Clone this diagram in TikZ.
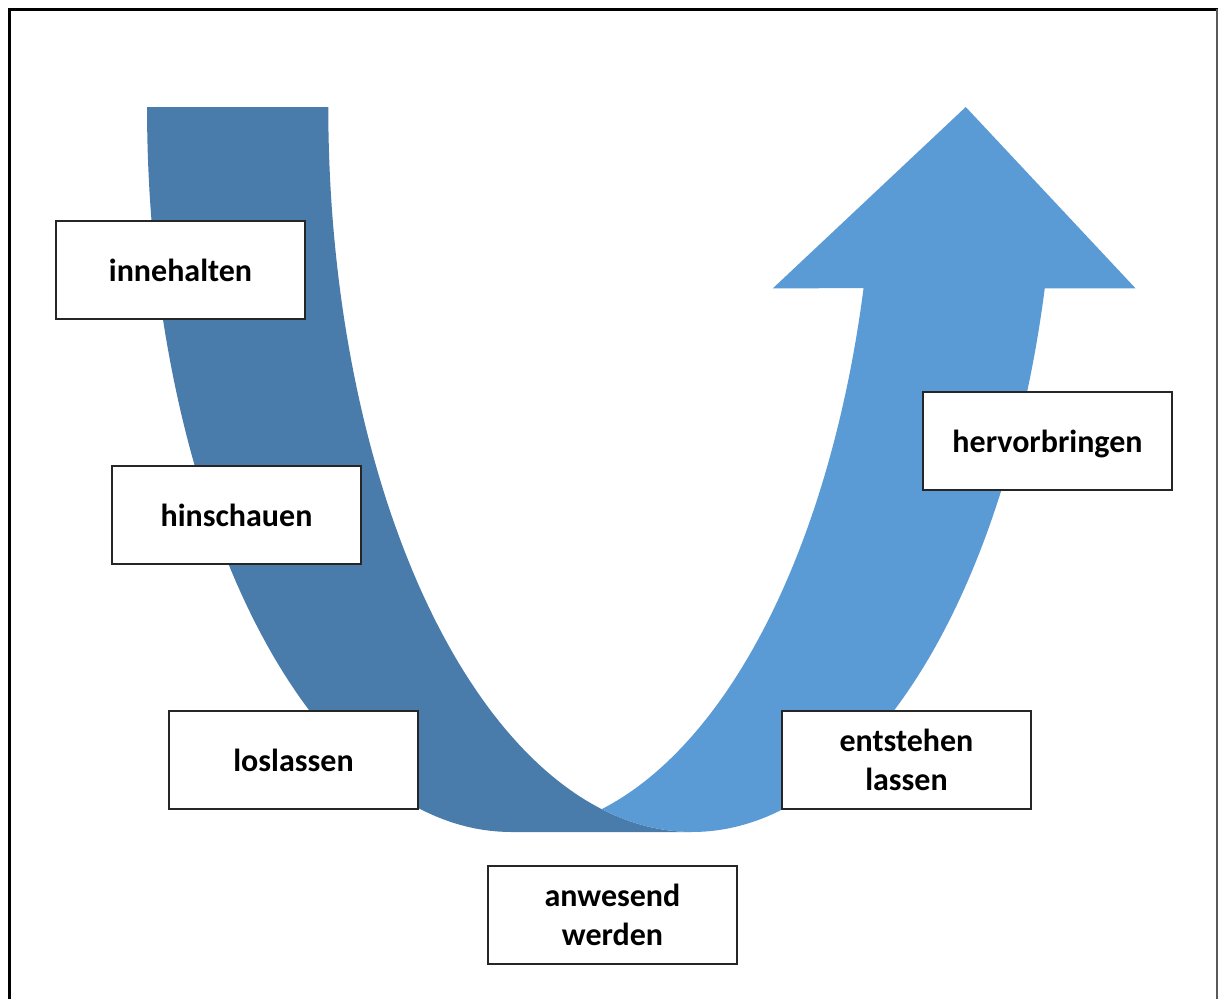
\documentclass[tikz,border=0pt]{standalone}
\usepackage{fontspec}
\setmainfont{Carlito}
\newcommand\stagestrut{\rule[-8.5pt]{0pt}{39pt}}
\begin{document}
\begin{tikzpicture}[x=1pt,y=-1pt,
  stage/.style={draw=black!85, line width=1.3pt, fill=white,
    minimum width=249pt, minimum height=98pt, inner sep=0pt,
    align=center, font=\bfseries\fontsize{32}{39}\selectfont},
  frameline/.style={line width=3pt, black}]
\definecolor{bandfront}{RGB}{91,155,213}
\definecolor{bandback}{RGB}{73,124,170}

\useasboundingbox (0,0) rectangle (1218,999);
\fill[white] (0,0) rectangle (1218,999);

% page frame (top, left, right)
\draw[frameline] (8,9.5) -- (1218,9.5);
\draw[frameline] (9.5,8) -- (9.5,999);
\draw[black!65, line width=1.5pt] (1217,9) -- (1217,999);

% back (descending) part of the curved arrow: between two half-ellipses
\fill[bandback] (511.06,832)
  -- plot[domain=90:180, samples=80] ({511.06+364.06*cos(\x)},{107+725*sin(\x)})
  -- (328.25,107)
  -- plot[domain=180:90, samples=80] ({692.31+364.06*cos(\x)},{107+725*sin(\x)})
  -- cycle;

% front (rising) part with the arrowhead
\fill[bandfront] (965.75,107) -- (1135.44,288.25) -- (1044.81,288.25)
  -- plot[domain=14.4775:104.414, samples=100] ({692.31+364.06*cos(\x)},{107+725*sin(\x)})
  -- plot[domain=75.586:14.4775, samples=100] ({511.06+364.06*cos(\x)},{107+725*sin(\x)})
  -- (772.94,288.25) -- cycle;

% stages
\node[stage] (innehalten) at (180.5,270) {\stagestrut innehalten};
\node[stage] (hinschauen) at (236.5,515) {\stagestrut hinschauen};
\node[stage] (loslassen) at (293.5,760) {\stagestrut loslassen};
\node[stage] (anwesend) at (612.5,915) {\stagestrut anwesend\\\stagestrut werden};
\node[stage] (entstehen) at (906.5,760) {\stagestrut entstehen\\\stagestrut lassen};
\node[stage] (hervorbringen) at (1047.5,441) {\stagestrut hervorbringen};
\end{tikzpicture}
\end{document}
